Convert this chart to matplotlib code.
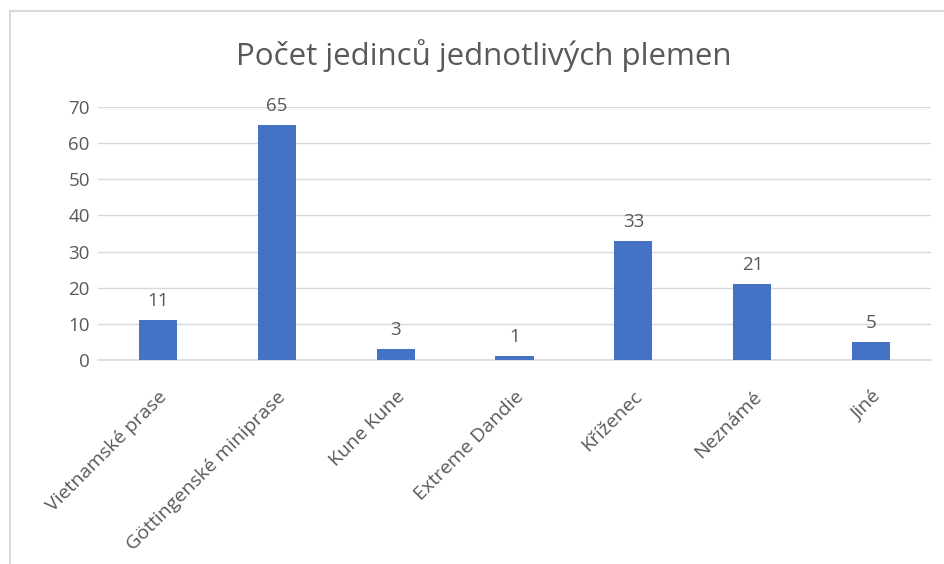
import matplotlib.pyplot as plt
from matplotlib.patches import Rectangle

plemena = ['Vietnamské prase', 'Göttingenské miniprase', 'Kune Kune',
           'Extreme Dandie', 'Kříženec', 'Neznámé', 'Jiné']
pocty = [11, 65, 3, 1, 33, 21, 5]
yticks = [0, 10, 20, 30, 40, 50, 60, 70]

plt.rcParams['font.family'] = ['Open Sans', 'DejaVu Sans']
seda = '#595959'

fig = plt.figure(figsize=(9.44, 5.64), dpi=100)
ax = fig.add_axes([0.104, 0.362, 0.882, 0.448])

x = range(len(plemena))
bars = ax.bar(x, pocty, width=0.32, color='#4472C4', zorder=3)
for xi, v in zip(x, pocty):
    ax.text(xi, v + 2.8, str(v), ha='center', va='bottom', fontsize=13.5, color=seda)

ax.set_xlim(-0.5, len(plemena) - 0.5)
ax.set_ylim(0, 70)
ax.set_yticks(yticks)
ax.set_yticklabels([str(t) for t in yticks], fontsize=13.5, color=seda)
ax.set_xticks(list(x))
ax.set_xticklabels(plemena, rotation=45, ha='right', rotation_mode='anchor',
                   fontsize=14, color=seda)
ax.tick_params(length=0, axis='y', pad=6)
ax.tick_params(length=0, axis='x', pad=20)
ax.grid(axis='y', color='#d9d9d9', linewidth=1, zorder=0)
for s in ['top', 'right', 'left']:
    ax.spines[s].set_visible(False)
ax.spines['bottom'].set_color('#d9d9d9')
ax.spines['bottom'].set_linewidth(1.2)

fig.text(0.512, 0.902, 'Počet jedinců jednotlivých plemen', ha='center', va='center',
         fontsize=22.5, color=seda)

fig.patches.append(Rectangle((10 / 944, -0.1), 1.2, 1 - 11 / 564 + 0.1, transform=fig.transFigure,
                             fill=False, edgecolor='#d9d9d9', linewidth=1.5))

fig.savefig('out.png', dpi=100)
